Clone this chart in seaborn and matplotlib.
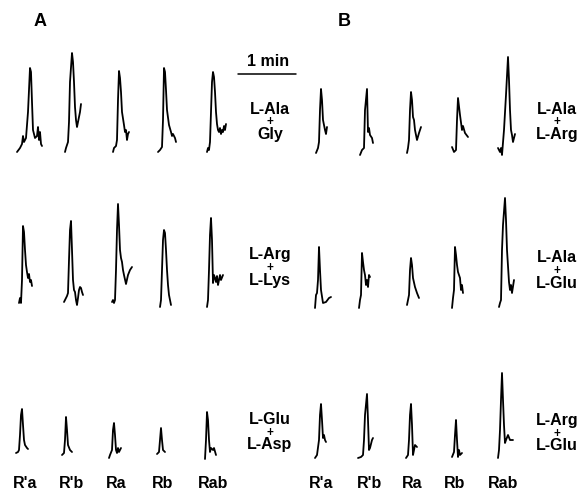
import numpy as np
import pandas as pd
import matplotlib
matplotlib.use("Agg")
import matplotlib.pyplot as plt
import seaborn as sns

# ==========================================
# DATA (t = time from trace start, v = response above baseline, arbitrary units)
# ==========================================

cells = ["R'a", "R'b", "Ra", "Rb", "Rab"]
pairs_A = [("L-Ala", "Gly"), ("L-Arg", "L-Lys"), ("L-Glu", "L-Asp")]
pairs_B = [("L-Ala", "L-Arg"), ("L-Ala", "L-Glu"), ("L-Arg", "L-Glu")]

# panel A, row 1 (L-Ala + Gly)
A1_t = [[0, 3, 5, 6, 7, 9, 11, 13, 14, 15, 16, 18, 20, 21, 22, 23, 24, 25],
        [1, 2, 4, 5, 6, 8, 9, 10, 11, 12, 13, 14, 16, 17],
        [1, 2, 4, 5, 6, 7, 8, 9, 10, 12, 13, 14, 15, 16, 17],
        [0, 2, 4, 5, 6, 7, 8, 9, 11, 13, 14, 15, 17, 18],
        [1, 2, 3, 4, 5, 6, 7, 8, 9, 10, 11, 12, 13, 14, 15, 16, 17, 18, 19, 20]]
A1_v = [[0, 4, 8, 16, 10, 14, 40, 84, 80, 50, 22, 14, 16, 25, 12, 20, 8, 6],
        [0, 4, 10, 30, 70, 99, 90, 70, 45, 32, 25, 30, 40, 48],
        [0, 4, 6, 12, 52, 81, 74, 60, 40, 27, 20, 22, 12, 18, 20],
        [0, 2, 5, 32, 84, 80, 62, 42, 27, 20, 16, 18, 14, 10],
        [0, 4, 2, 10, 40, 70, 80, 75, 60, 40, 28, 22, 20, 24, 18, 22, 20, 26, 22, 28]]

# panel A, row 2 (L-Arg + L-Lys)
A2_t = [[2, 3, 4, 5, 6, 7, 8, 9, 10, 11, 12, 13, 14, 15],
        [0, 1, 3, 4, 5, 6, 7, 8, 9, 10, 11, 12, 13, 14, 15, 16, 17, 18, 19],
        [0, 1, 2, 3, 4, 5, 6, 7, 8, 9, 10, 11, 12, 14, 16, 18, 20],
        [2, 3, 4, 5, 6, 7, 8, 9, 10, 11, 13],
        [1, 2, 3, 4, 5, 6, 7, 8, 9, 10, 11, 12, 13, 14, 15, 17]]
A2_v = [[2, 7, 2, 25, 79, 73, 55, 40, 33, 27, 31, 23, 25, 19],
        [3, 5, 9, 12, 45, 75, 84, 55, 25, 15, 13, 5, 0, 7, 15, 18, 17, 13, 10],
        [3, 5, 2, 5, 35, 75, 101, 80, 55, 47, 43, 35, 30, 21, 30, 35, 38],
        [-2, 5, 35, 65, 75, 72, 55, 35, 20, 10, 0],
        [-2, 5, 35, 70, 87, 65, 22, 30, 27, 23, 29, 20, 25, 30, 25, 30]]

# panel A, row 3 (L-Glu + L-Asp)
A3_t = [[-1, 1, 2, 3, 4, 5, 6, 7, 8, 10, 11],
        [-2, 0, 1, 2, 3, 4, 6, 8],
        [-3, -2, 0, 1, 2, 3, 4, 5, 6, 7, 9],
        [-1, 1, 2, 3, 4, 5, 7],
        [-1, 0, 1, 2, 3, 4, 5, 7, 8, 10]]
A3_v = [[2, 3, 5, 20, 40, 46, 30, 15, 10, 7, 6],
        [0, 2, 15, 38, 25, 10, 5, 3],
        [-3, 0, 5, 25, 32, 20, 5, 2, 7, 3, 7],
        [1, 3, 15, 27, 15, 5, 3],
        [-4, 15, 43, 35, 15, 3, 7, 5, 7, 0]]

# panel B, row 1 (L-Ala + L-Arg)
B1_t = [[1, 3, 4, 5, 6, 7, 8, 9, 10, 11, 12],
        [1, 3, 5, 6, 8, 9, 10, 11, 13, 14],
        [1, 2, 3, 4, 5, 6, 7, 8, 9, 11, 13, 15],
        [0, 2, 4, 5, 6, 8, 10, 11, 13, 16],
        [0, 2, 3, 4, 6, 8, 10, 11, 12, 13, 14, 15, 17]]
B1_v = [[0, 5, 11, 43, 64, 53, 33, 28, 23, 19, 26],
        [-2, 3, 5, 43, 64, 21, 25, 18, 15, 10],
        [0, 5, 13, 43, 61, 53, 36, 33, 23, 13, 20, 26],
        [6, 1, 3, 33, 55, 38, 23, 27, 20, 16],
        [5, 1, 5, -2, 23, 58, 96, 73, 43, 23, 18, 11, 19]]

# panel B, row 2 (L-Ala + L-Glu)
B2_t = [[0, 1, 2, 3, 4, 5, 6, 8, 11, 14, 16],
        [0, 1, 2, 3, 4, 5, 6, 7, 8, 9, 10, 11],
        [1, 2, 3, 4, 5, 6, 7, 9, 11, 13],
        [0, 1, 2, 3, 4, 5, 6, 8, 9, 10, 11],
        [1, 2, 3, 4, 5, 7, 8, 9, 11, 12, 13, 14, 16]]
B2_v = [[-1, 12, 14, 27, 60, 37, 17, 4, 5, 9, 10],
        [-1, 7, 12, 54, 45, 37, 32, 22, 27, 20, 32, 30],
        [2, 7, 12, 37, 49, 42, 29, 20, 14, 9],
        [-1, 9, 17, 60, 52, 42, 35, 29, 17, 22, 14],
        [0, 4, 7, 57, 82, 109, 87, 57, 25, 17, 22, 14, 27]]

# panel B, row 3 (L-Arg + L-Glu)
B3_t = [[0, 2, 4, 5, 6, 7, 8, 9, 10, 11],
        [-1, 2, 4, 5, 6, 8, 9, 10, 11, 13, 14],
        [0, 2, 3, 4, 5, 6, 7, 8, 9, 11],
        [0, 2, 3, 4, 5, 6, 7, 8, 10],
        [0, 1, 2, 3, 4, 5, 6, 7, 8, 10, 12, 15]]
B3_v = [[0, 3, 18, 43, 54, 38, 20, 23, 18, 16],
        [0, 1, 3, 18, 43, 64, 38, 8, 10, 18, 20],
        [0, 3, 18, 43, 54, 33, 3, 8, 13, 11],
        [1, 6, 23, 38, 18, 1, 8, 3, 5],
        [0, 8, 28, 58, 85, 58, 33, 15, 18, 23, 18, 18]]

# ==========================================
# LAYOUT
# ==========================================

col_x = {"A": [17, 64, 112, 158, 206], "B": [315, 359, 406, 452, 498]}
base_y = {"A": [152, 305, 455], "B": [153, 307, 458]}
label_x = {"A": [25, 72, 116, 163, 213], "B": [321, 369, 412, 455, 503]}
pair_x = {"A": 270, "B": 557}
pair_y = {"A": [109, 255, 420], "B": [109, 258, 421]}

rows_t = {"A": [A1_t, A2_t, A3_t], "B": [B1_t, B2_t, B3_t]}
rows_v = {"A": [A1_v, A2_v, A3_v], "B": [B1_v, B2_v, B3_v]}
pairs = {"A": pairs_A, "B": pairs_B}

recs = []
for p in ["A", "B"]:
    for r in range(3):
        for c, cell in enumerate(cells):
            t = rows_t[p][r][c]
            v = rows_v[p][r][c]
            for ti, vi in zip(t, v):
                recs.append({"trace": f"{p}{r}{c}",
                             "x": col_x[p][c] + ti,
                             "y": base_y[p][r] - vi})
df = pd.DataFrame(recs)

# ==========================================
# PLOT
# ==========================================

sns.set_style("white")
plt.rcParams['font.family'] = ['Liberation Sans', 'DejaVu Sans']
plt.rcParams['text.color'] = 'black'

fig = plt.figure(figsize=(5.84, 5.0), dpi=100)
ax = fig.add_axes([0, 0, 1, 1])

sns.lineplot(data=df, x="x", y="y", units="trace", estimator=None,
             sort=False, color="black", lw=1.3, ax=ax, legend=False)

ax.set_xlim(0, 584)
ax.set_ylim(500, 0)
ax.axis("off")

txt = dict(fontsize=11.5, fontweight="bold", color="black",
           ha="center", va="center")

# panel letters
ax.text(40, 21, "A", fontsize=13, fontweight="bold", color="black",
        ha="center", va="center")
ax.text(344, 21, "B", fontsize=13, fontweight="bold", color="black",
        ha="center", va="center")

# scale bar
ax.text(268, 62, "1 min", **txt)
ax.plot([238, 296], [74, 74], color="black", lw=1.1)

# amino acid pairs
for p in ["A", "B"]:
    for r, (a, b) in enumerate(pairs[p]):
        y0 = pair_y[p][r]
        ax.text(pair_x[p], y0, a, **txt)
        ax.text(pair_x[p], y0 + 13, "+", fontsize=8.5, fontweight="bold",
                color="black", ha="center", va="center")
        ax.text(pair_x[p], y0 + 25, b, **txt)

# cell labels
for p in ["A", "B"]:
    for c, cell in enumerate(cells):
        ax.text(label_x[p][c], 484, cell, **txt)

fig.savefig("out.png", dpi=100)
